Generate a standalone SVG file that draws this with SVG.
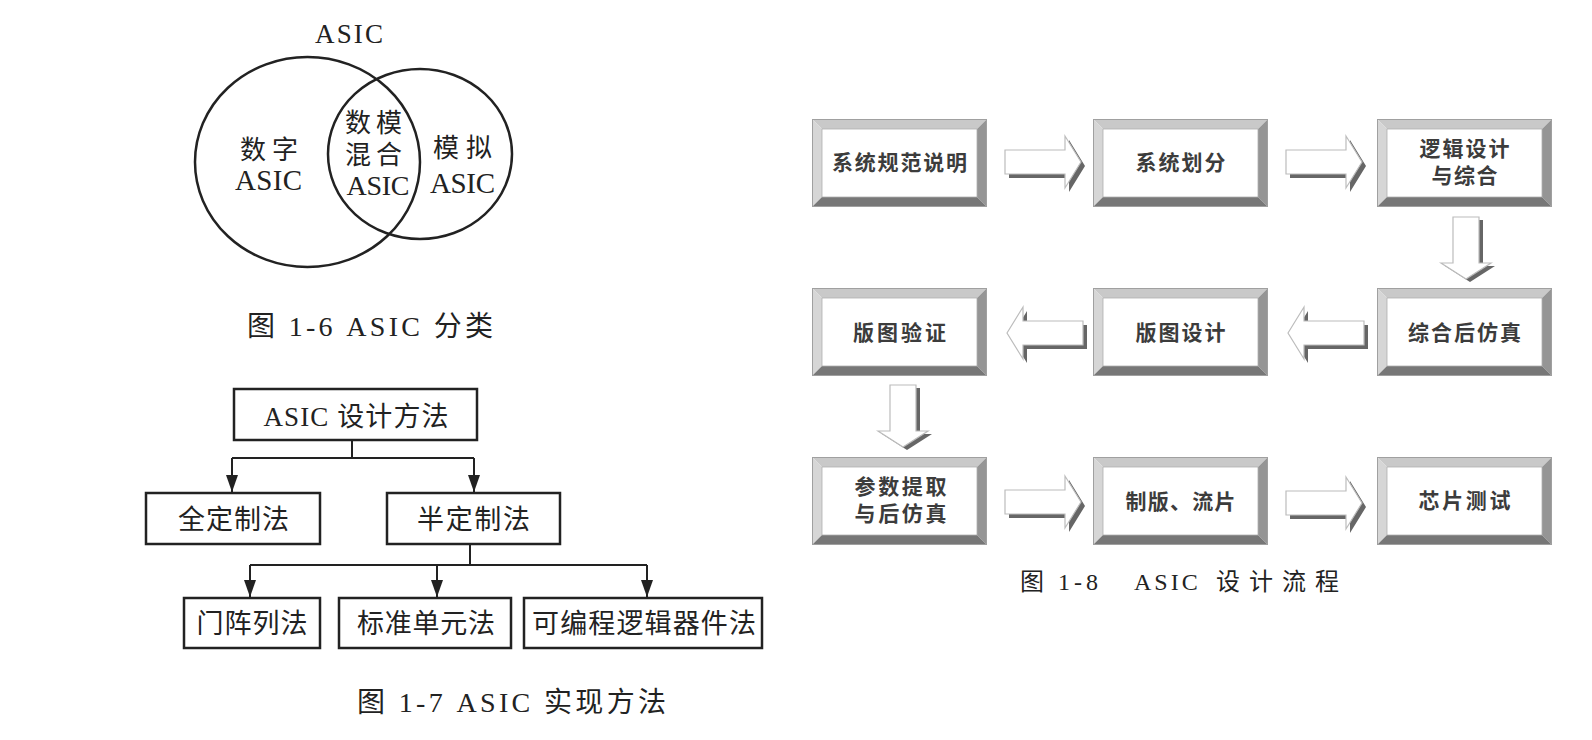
<svg xmlns="http://www.w3.org/2000/svg" width="1592" height="740" viewBox="0 0 1592 740">
<style>
.ser{font-family:"Liberation Serif","Noto Sans CJK SC",serif;fill:#222}
.s27{font-size:27px}
.s28{font-size:28px}
.mid{text-anchor:middle}
.box{fill:#fff;stroke:#222;stroke-width:2.5}
.ln{fill:none;stroke:#222;stroke-width:2}
.venn{fill:none;stroke:#222;stroke-width:2.5}
.ft{font-family:"Noto Sans CJK SC",sans-serif;font-weight:bold;font-size:21px;fill:#3c3c3c;text-anchor:middle}
.ash{fill:#666}
.aw{fill:#fff;stroke:#bcbcbc;stroke-width:1.2}
</style>
<defs>
<marker id="ah" markerUnits="userSpaceOnUse" markerWidth="17" markerHeight="12" refX="17" refY="6" orient="auto"><path d="M0,0 L17,6 L0,12 z" fill="#222"/></marker>
<symbol id="bevel" viewBox="0 0 175 88" width="175" height="88" overflow="visible">
<polygon points="0,0 175,0 165,10 10,10" fill="#c9c9c9"/>
<polygon points="0,0 10,10 10,78 0,88" fill="#d6d6d6"/>
<polygon points="175,0 175,88 165,78 165,10" fill="#959595"/>
<polygon points="0,88 175,88 165,78 10,78" fill="#777"/>
<rect x="0.5" y="0.5" width="174" height="87" fill="none" stroke="#a0a0a0"/>
<rect x="10" y="10" width="155" height="68" fill="#fff" stroke="#b0b0b0" stroke-width="0.8"/>
</symbol>
<g id="arR"><path class="ash" transform="translate(4,4)" d="M0,-12 H60 V-26 L76,0 L60,26 V12 H0 Z"/><path class="aw" d="M0,-12 H60 V-26 L76,0 L60,26 V12 H0 Z"/></g>
<g id="arL"><path class="ash" transform="translate(4,4)" d="M0,0 L16,-26 V-12 H76 V12 H16 V26 Z"/><path class="aw" d="M0,0 L16,-26 V-12 H76 V12 H16 V26 Z"/></g>
<g id="arD"><path class="ash" transform="translate(4,3)" d="M-13,0 H13 V46 H25 L0,62 L-25,46 H-13 Z"/><path class="aw" d="M-13,0 H13 V46 H25 L0,62 L-25,46 H-13 Z"/></g>
</defs>
<rect width="1592" height="740" fill="#fff"/>

<!-- Fig 1-6 Venn -->
<g id="venn">
<text class="ser mid s27" x="349" y="43" textLength="68">ASIC</text>
<ellipse class="venn" cx="307.5" cy="162" rx="112.5" ry="105"/>
<ellipse class="venn" cx="420" cy="154" rx="92" ry="85"/>
<g id="v-digital">
<text class="ser mid" font-size="26" x="269" y="159" textLength="58">数字</text>
<text class="ser mid" font-size="29" x="268.5" y="190" textLength="67">ASIC</text>
</g>
<g id="v-mixed">
<text class="ser mid" font-size="26" x="373.5" y="132" textLength="57">数模</text>
<text class="ser mid" font-size="26" x="373.5" y="164" textLength="57">混合</text>
<text class="ser mid" font-size="28" x="378" y="195" textLength="63">ASIC</text>
</g>
<g id="v-analog">
<text class="ser mid" font-size="26" x="462.5" y="157" textLength="59">模拟</text>
<text class="ser mid" font-size="29" x="462.5" y="193" textLength="65">ASIC</text>
</g>
</g>
<text id="cap16" class="ser s28" x="247" y="336" textLength="246">图 1-6 ASIC 分类</text>

<!-- Fig 1-7 tree -->
<g id="tree-connectors">
<path class="ln" d="M352,440 V458 M232,458 H474"/>
<path class="ln" d="M232,458 V492" marker-end="url(#ah)"/>
<path class="ln" d="M474,458 V492" marker-end="url(#ah)"/>
<path class="ln" d="M470,544 V565 M250,565 H647"/>
<path class="ln" d="M250,565 V597" marker-end="url(#ah)"/>
<path class="ln" d="M437,565 V597" marker-end="url(#ah)"/>
<path class="ln" d="M647,565 V597" marker-end="url(#ah)"/>
</g>
<g id="t-root"><rect class="box" x="234" y="389" width="243" height="51"/><text class="ser mid s27" x="356" y="426" textLength="185">ASIC 设计方法</text></g>
<g id="t-full"><rect class="box" x="146" y="493" width="174" height="51"/><text class="ser mid s27" x="233.5" y="529" textLength="111">全定制法</text></g>
<g id="t-semi"><rect class="box" x="387" y="493" width="173" height="51"/><text class="ser mid s27" x="473.5" y="529" textLength="113">半定制法</text></g>
<g id="t-gate"><rect class="box" x="184" y="598" width="136" height="50"/><text class="ser mid s27" x="252" y="633" textLength="111">门阵列法</text></g>
<g id="t-cell"><rect class="box" x="339" y="598" width="172" height="50"/><text class="ser mid s27" x="426" y="633" textLength="138">标准单元法</text></g>
<g id="t-pld"><rect class="box" x="524" y="598" width="238" height="50"/><text class="ser mid s27" x="644" y="633" textLength="224">可编程逻辑器件法</text></g>
<text id="cap17" class="ser s28" x="357" y="712" textLength="309">图 1-7 ASIC 实现方法</text>

<!-- Fig 1-8 flow -->
<g id="flow-connectors">
<use href="#arR" x="1005" y="162"/>
<use href="#arR" x="1286" y="162"/>
<use href="#arD" x="1466" y="217"/>
<use href="#arL" x="1288" y="333"/>
<use href="#arL" x="1007" y="333"/>
<use href="#arD" x="903" y="385"/>
<use href="#arR" x="1005" y="502"/>
<use href="#arR" x="1286" y="503"/>
</g>
<g id="f-spec"><use href="#bevel" x="812" y="119"/><text class="ft" x="899.5" y="170" textLength="135">系统规范说明</text></g>
<g id="f-part"><use href="#bevel" x="1093" y="119"/><text class="ft" x="1180.5" y="170" textLength="90">系统划分</text></g>
<g id="f-logic"><use href="#bevel" x="1377" y="119"/><text class="ft" x="1464.5" y="156" textLength="90">逻辑设计</text><text class="ft" x="1464.5" y="183" textLength="66">与综合</text></g>
<g id="f-postsim"><use href="#bevel" x="1377" y="288"/><text class="ft" x="1464.5" y="340" textLength="113">综合后仿真</text></g>
<g id="f-layout"><use href="#bevel" x="1093" y="288"/><text class="ft" x="1180.5" y="340" textLength="90">版图设计</text></g>
<g id="f-verify"><use href="#bevel" x="812" y="288"/><text class="ft" x="899.5" y="340" textLength="93">版图验证</text></g>
<g id="f-extract"><use href="#bevel" x="812" y="457"/><text class="ft" x="900.5" y="494" textLength="92">参数提取</text><text class="ft" x="900.5" y="521" textLength="92">与后仿真</text></g>
<g id="f-fab"><use href="#bevel" x="1093" y="457"/><text class="ft" x="1180.5" y="509" textLength="110">制版、流片</text></g>
<g id="f-test"><use href="#bevel" x="1377" y="457"/><text class="ft" x="1464.5" y="508" textLength="92">芯片测试</text></g>
<text id="cap18" class="ser" font-size="24" y="590"><tspan x="1020" letter-spacing="4">图 1-8 </tspan><tspan x="1134" letter-spacing="3">ASIC </tspan><tspan x="1216" letter-spacing="9">设计流程</tspan></text>
</svg>
